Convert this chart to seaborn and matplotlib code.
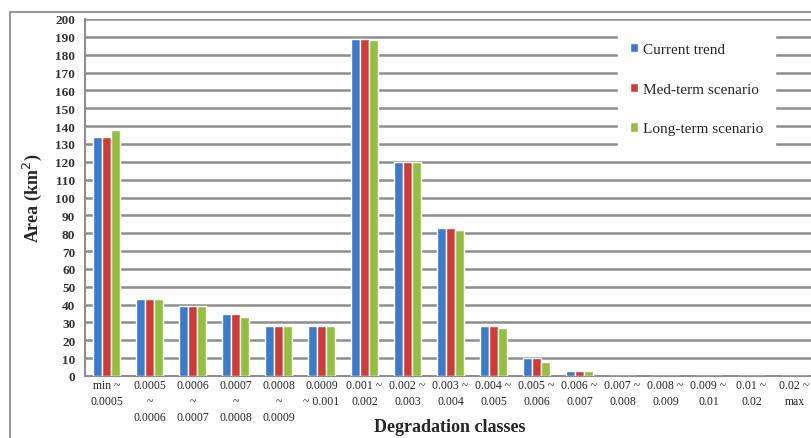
import pandas as pd
import numpy as np
import matplotlib
matplotlib.use("Agg")
import matplotlib.pyplot as plt
import seaborn as sns
from matplotlib.patches import Rectangle

classes = ["min ~\n0.0005", "0.0005\n~\n0.0006", "0.0006\n~\n0.0007", "0.0007\n~\n0.0008",
           "0.0008\n~\n0.0009", "0.0009\n~ 0.001", "0.001 ~\n0.002", "0.002 ~\n0.003",
           "0.003 ~\n0.004", "0.004 ~\n0.005", "0.005 ~\n0.006", "0.006 ~\n0.007",
           "0.007 ~\n0.008", "0.008 ~\n0.009", "0.009 ~\n0.01", "0.01 ~\n0.02", "0.02 ~\nmax"]
current = [134, 43, 39, 35, 28, 28, 189, 120, 83, 28, 10, 3, 0, 0, 0, 0, 0]
med_term = [134, 43, 39, 35, 28, 28, 189, 120, 83, 28, 10, 3, 0, 0, 0, 0, 0]
long_term = [138, 43, 39, 33, 28, 28, 188, 120, 82, 27, 8, 3, 0, 0, 0, 0, 0]
series = ["Current trend", "Med-term scenario", "Long-term scenario"]
colors = ["#3b7bcd", "#d13a37", "#93c13f"]

df = pd.DataFrame({
    "cls": classes * 3,
    "area": current + med_term + long_term,
    "scenario": np.repeat(series, len(classes)),
})

sns.set_style("white")
plt.rcParams['font.family'] = ['Liberation Serif', 'DejaVu Serif']

fig = plt.figure(figsize=(8.11, 4.39), dpi=100)
W, H = 811, 439
ax = fig.add_axes([85 / W, (H - 377) / H, (816 - 85) / W, (377 - 20) / H])

# outer frame
fig.patches.append(Rectangle((10 / W, -0.05), 1.2, (H - 13) / H + 0.05, transform=fig.transFigure,
                             fill=False, edgecolor="#9a9a9a", linewidth=1.5, zorder=0))

sns.barplot(data=df, x="cls", y="area", hue="scenario", palette=colors, width=0.65,
            saturation=1, ax=ax, zorder=3)

ax.set_ylim(0, 200)
ax.set_xlim(-0.5, len(classes) - 0.5)
ax.set_yticks(range(0, 201, 10))
ax.yaxis.grid(True, color="#8e8e8e", linewidth=1.8, zorder=0)
ax.set_axisbelow(True)
for s in ["top", "right"]:
    ax.spines[s].set_visible(False)
ax.spines["left"].set_color("#8e8e8e")
ax.spines["bottom"].set_color("#8e8e8e")
ax.spines["left"].set_linewidth(1.5)
ax.spines["bottom"].set_linewidth(1.5)

ax.tick_params(axis="y", labelsize=9.5, length=5, color="#8e8e8e", width=1.2, pad=2)
for t in ax.get_yticklabels():
    t.set_fontweight("bold")
    t.set_color("#333333")
ax.tick_params(axis="x", which="major", length=0, labelsize=8.5, pad=2)
ax.set_xticks(np.arange(-0.5, len(classes), 1), minor=True)
ax.tick_params(axis="x", which="minor", length=5, color="#8e8e8e", width=1.2)
ax.set_xticklabels(classes, linespacing=1.45)

ax.set_ylabel("Area (km$^2$)", fontsize=13, fontweight="bold", labelpad=8)
ax.set_xlabel("")
fig.text(450 / W, 1 - 428 / H, "Degradation classes", fontsize=13, fontweight="bold",
         ha="center", va="center")

leg = ax.legend(loc="upper left", frameon=True,
                fontsize=11, handlelength=0.55, handleheight=0.55, handletextpad=0.3,
                labelspacing=1.75, borderpad=0.8)
leg.get_frame().set_facecolor("white")
leg.get_frame().set_edgecolor("white")
leg.get_frame().set_alpha(1)
leg.set_bbox_to_anchor((610 / W, 1 - 24 / H), transform=fig.transFigure)
leg.set_zorder(5)

fig.savefig("out.png", dpi=100)
